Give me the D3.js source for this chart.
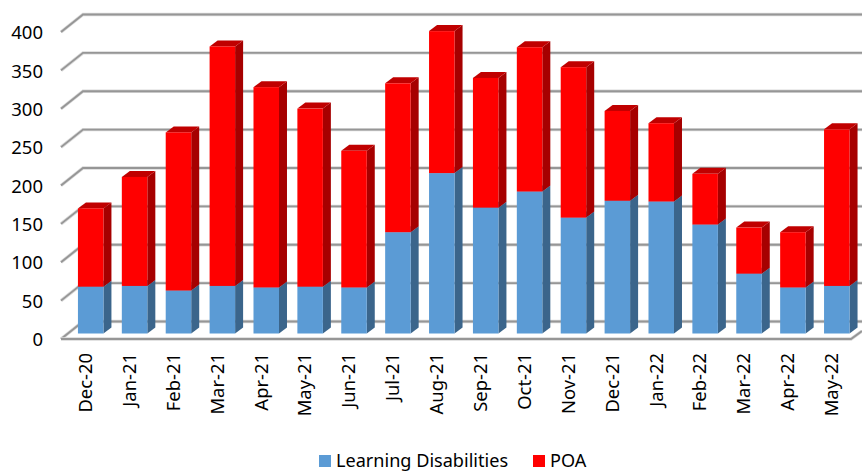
<!DOCTYPE html>
<html><head><meta charset="utf-8">
<script src="https://cdnjs.cloudflare.com/ajax/libs/d3/7.8.5/d3.min.js"></script>
<style>html,body{margin:0;padding:0;background:#fff}svg{display:block}text{font-family:"Noto Sans",sans-serif;fill:#000}</style>
</head><body><svg id="c" width="862" height="472"></svg>
<script>
const categories=["Dec-20","Jan-21","Feb-21","Mar-21","Apr-21","May-21","Jun-21","Jul-21","Aug-21","Sep-21","Oct-21","Nov-21","Dec-21","Jan-22","Feb-22","Mar-22","Apr-22","May-22"];
const learningDisabilities=[61,62,56,62,60,61,60,132,209,164,185,151,173,172,142,78,60,62];
const poa=[102,142,206,312,261,232,178,194,185,169,188,196,117,102,66,60,72,204];
const yTicks=[0,50,100,150,200,250,300,350,400];
const seriesNames=["Learning Disabilities","POA"];
const colors=[{front:"#5b9bd5",side:"#3b658b",top:"#4a7fae"},{front:"#ff0000",side:"#a60000",top:"#c00000"}];

const svg=d3.select("#c");
const wallDx=22,wallDy=-17.5,barDx=8,barDy=-6;
const y=d3.scaleLinear().domain([0,400]).range([339,32]);
const x=d3.scaleBand().domain(categories).range([61,851]).paddingInner(0.43).paddingOuter(0.215);
const barY=v=>y(v)-5.5;
const barX=c=>x(c)+7.5;
const bw=25.5;

const grid=svg.append("g");
const gridLine=(p,w,col)=>grid.append("path").attr("d",d3.line()(p)).attr("fill","none").attr("stroke",col).attr("stroke-width",w);
const stroke=p=>{gridLine(p,3.4,"#d9d9d9");gridLine(p,1.9,"#969696");};
yTicks.forEach(t=>{
  if(t===0)return;
  stroke([[61,y(t)],[61+wallDx,y(t)+wallDy],[862,y(t)+wallDy]]);
});
stroke([[862,339+wallDy],[61+wallDx,339+wallDy],[61,339]]);
stroke([[61,339],[851,339],[862,331]]);

const bars=svg.append("g");
categories.forEach((c,i)=>{
  let base=0;
  [learningDisabilities[i],poa[i]].forEach((v,s)=>{
    const x0=barX(c),x1=x0+bw,y0=barY(base),y1=barY(base+v),col=colors[s];
    bars.append("path").attr("d",d3.line()([[x1,y0],[x1+barDx,y0+barDy],[x1+barDx,y1+barDy],[x1,y1]])+"Z").attr("fill",col.side);
    bars.append("path").attr("d",d3.line()([[x0,y1],[x0+barDx,y1+barDy],[x1+barDx,y1+barDy],[x1,y1]])+"Z").attr("fill",col.top);
    bars.append("rect").attr("x",x0).attr("y",y1).attr("width",bw).attr("height",y0-y1).attr("fill",col.front);
    base+=v;
  });
});

const axisY=d3.axisLeft(y).tickValues(yTicks).tickSize(0).tickPadding(0);
const gy=svg.append("g").attr("transform","translate(43,0)").call(axisY);
gy.select(".domain").remove();
gy.selectAll("text").attr("font-size",18.5).attr("dy","0.36em").style("font-family",'"Noto Sans",sans-serif');

const axisX=d3.axisBottom(x).tickSize(0).tickPadding(0);
const gx=svg.append("g").call(axisX);
gx.select(".domain").remove();
gx.selectAll("g").attr("transform",null);
gx.selectAll("text").each(function(c){
  d3.select(this).attr("x",null).attr("y",null).attr("dy",null)
    .attr("text-anchor","end").attr("font-size",18.4)
    .attr("transform",`translate(${x(c)+x.bandwidth()/2+1.5},353) rotate(-90)`)
    .attr("dominant-baseline","central").style("font-family",'"Noto Sans",sans-serif');
});

const legend=svg.append("g");
const legendX=[319,533];
seriesNames.forEach((n,i)=>{
  legend.append("rect").attr("x",legendX[i]).attr("y",455).attr("width",12).attr("height",12).attr("fill",colors[i].front);
  legend.append("text").attr("x",legendX[i]+17).attr("y",467).attr("font-size",18.1).text(n);
});
</script></body></html>
